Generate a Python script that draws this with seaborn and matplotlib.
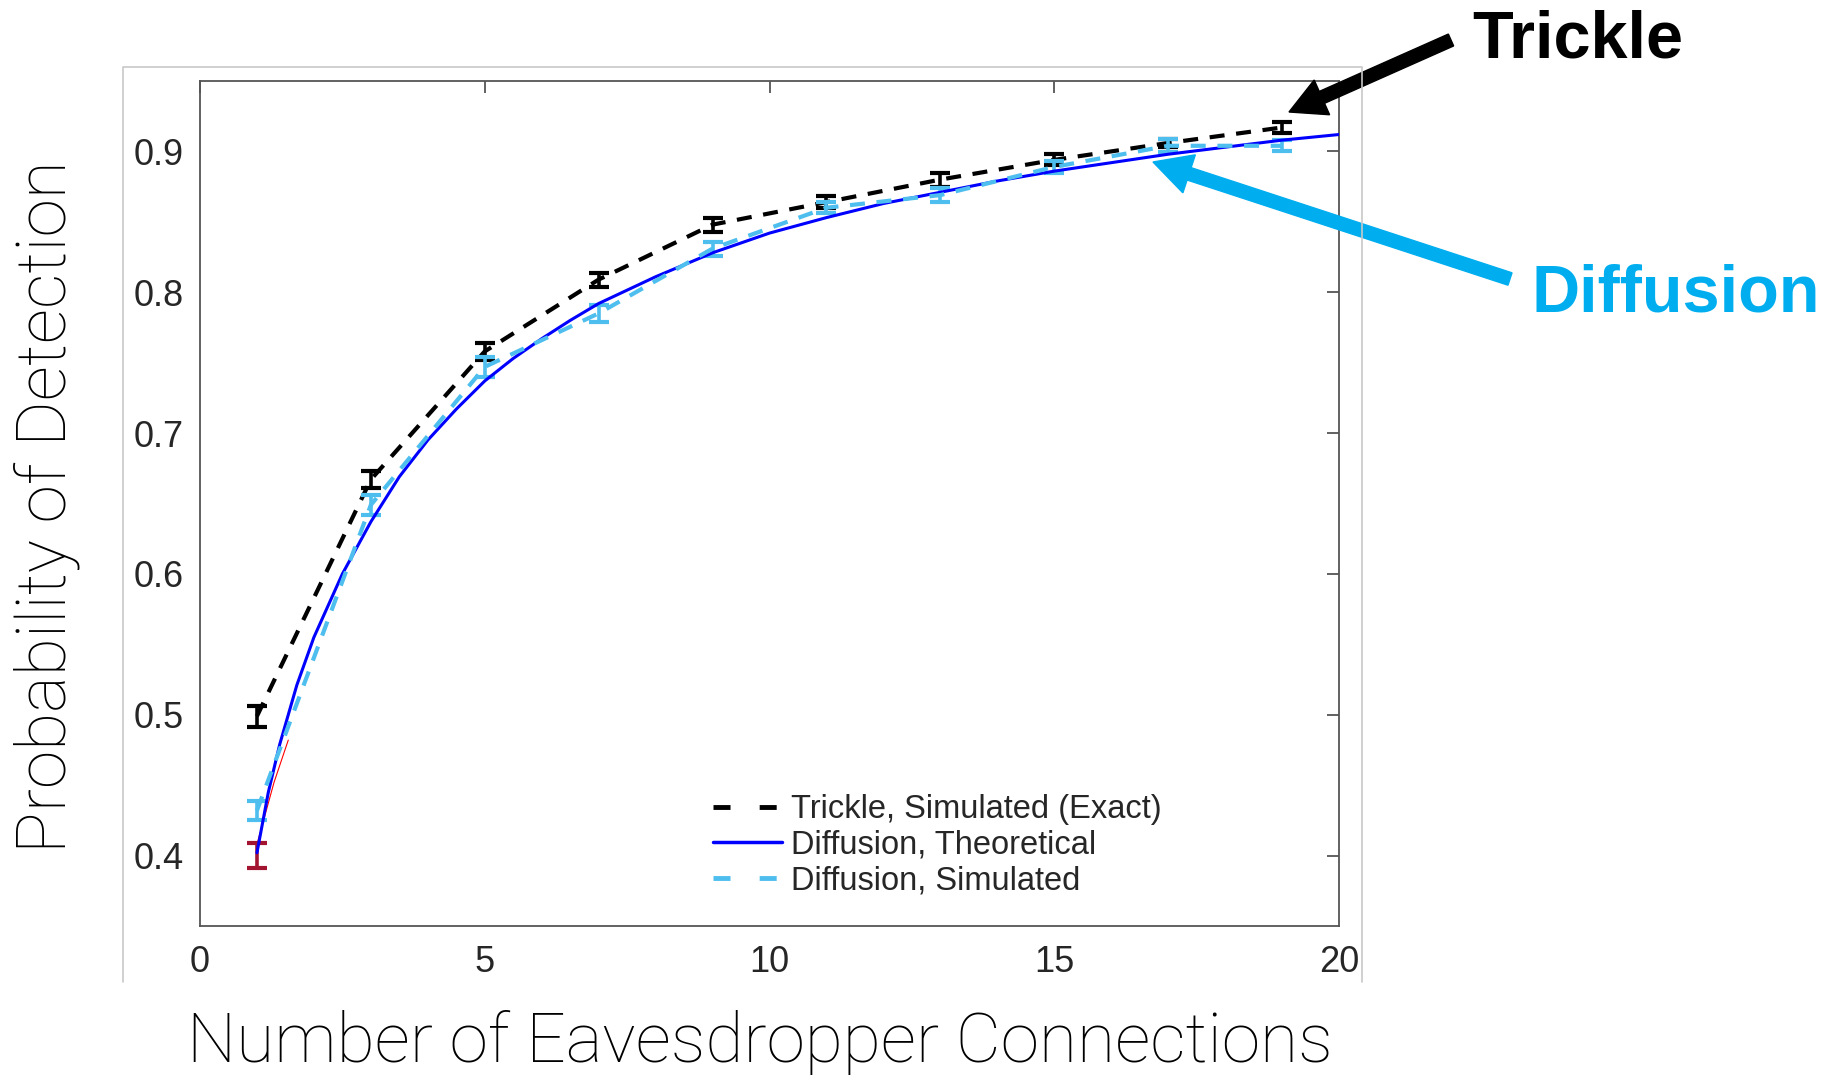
import matplotlib.pyplot as plt
import matplotlib.lines as mlines
import matplotlib.patches as mpatches
import matplotlib.transforms as mtransforms
import seaborn as sns

# simulated points (odd numbers of eavesdropper connections)
sim_x = [1, 3, 5, 7, 9, 11, 13, 15, 17, 19]
trickle_sim = [0.499, 0.667, 0.758, 0.809, 0.848, 0.864, 0.880, 0.894, 0.906, 0.917]
trickle_err = [0.0075, 0.006, 0.006, 0.005, 0.005, 0.004, 0.005, 0.004, 0.003, 0.004]
diffusion_sim = [0.432, 0.649, 0.747, 0.785, 0.831, 0.860, 0.869, 0.889, 0.904, 0.904]
diffusion_err = [0.007, 0.007, 0.007, 0.006, 0.005, 0.004, 0.005, 0.004, 0.0045, 0.004]

# theoretical diffusion curve
theory_x = [1, 1.2, 1.4, 1.7, 2, 2.5, 3, 3.5, 4, 4.5, 5, 5.5, 6, 6.5, 7, 8, 9, 10,
            11, 12, 13, 14, 15, 16, 17, 18, 19, 20]
diffusion_theory = [0.402, 0.445, 0.479, 0.521, 0.555, 0.600, 0.637, 0.669,
                    0.695, 0.717, 0.737, 0.753, 0.767, 0.780, 0.792, 0.811,
                    0.828, 0.842, 0.853, 0.863, 0.871, 0.879, 0.886, 0.892,
                    0.898, 0.903, 0.908, 0.912]

# faint red curve + bar at x=1, mostly hidden under the blue line
red_x = [1.0, 1.3, 1.55]
red_y = [0.408, 0.452, 0.482]
red_bar_x = [1]
red_bar_y = [0.400]
red_bar_err = [0.009]

xticks = [0, 5, 10, 15, 20]
yticks = [0.4, 0.5, 0.6, 0.7, 0.8, 0.9]
legend_labels = ["Trickle, Simulated (Exact)", "Diffusion, Theoretical", "Diffusion, Simulated"]

BLACK = "black"
BLUE = "#0000ff"
CYAN = "#4dbeee"
DARKRED = "#a2142f"
ARROW_CYAN = "#00aeef"

sns.set_theme(style="white")
plt.rcParams['font.family'] = ['Liberation Sans', 'DejaVu Sans']

W, H = 1844, 1075
fig = plt.figure(figsize=(W / 100, H / 100), dpi=100)
ax = fig.add_axes([200 / W, 1 - 926 / H, 1139 / W, 845 / H])

dash = (0, (3.6, 2.8))
bar_kw = dict(fmt="none", elinewidth=2.6, capsize=7.5, capthick=3)
sns.lineplot(x=red_x, y=red_y, ax=ax, color="red", linewidth=0.8, zorder=2)
sns.lineplot(x=sim_x, y=trickle_sim, ax=ax, color=BLACK, linewidth=3, linestyle=dash, zorder=3)
ax.errorbar(red_bar_x, red_bar_y, yerr=red_bar_err, ecolor=DARKRED, zorder=2, **bar_kw)
ax.errorbar(sim_x, trickle_sim, yerr=trickle_err, ecolor=BLACK, zorder=4, **bar_kw)
ax.errorbar(sim_x, diffusion_sim, yerr=diffusion_err, ecolor=CYAN, zorder=4, **bar_kw)
sns.lineplot(x=theory_x, y=diffusion_theory, ax=ax, color=BLUE, linewidth=2.2, zorder=5)
sns.lineplot(x=sim_x, y=diffusion_sim, ax=ax, color=CYAN, linewidth=3, linestyle=dash, zorder=5)

ax.set_xlim(0, 20)
ax.set_ylim(0.35, 0.95)
ax.set_xticks(xticks)
ax.set_xticklabels([str(t) for t in xticks])
ax.set_yticks(yticks)
ax.set_yticklabels([f"{t:.1f}" for t in yticks])
ax.tick_params(direction="in", length=8.6, width=1.3, color="#555555",
               labelsize=26, labelcolor="#262626", top=True, right=True)
ax.tick_params(axis="x", pad=13.5)
ax.tick_params(axis="y", pad=11.5)
for s in ax.spines.values():
    s.set_color("#555555")
    s.set_linewidth(1.3)
ax.set_xlabel("")
ax.set_ylabel("")

handles = [
    mlines.Line2D([], [], color=BLACK, linewidth=3.5, linestyle=(0, (3.5, 6))),
    mlines.Line2D([], [], color=BLUE, linewidth=2.5),
    mlines.Line2D([], [], color=CYAN, linewidth=3.5, linestyle=(0, (3.5, 6))),
]
ax.legend(handles, legend_labels, loc="center left",
          bbox_to_anchor=(713 / W, 1 - 845 / H), bbox_transform=fig.transFigure,
          frameon=False, fontsize=23.5, handlelength=2.1, handletextpad=0.3,
          labelspacing=0.14, borderpad=0, borderaxespad=0)

# axis titles in a light face
fig.text(760 / W, 1 - 1062 / H, "Number of Eavesdropper Connections",
         ha="center", va="baseline", fontsize=50, family="Roboto",
         fontweight="light", color="black")
fig.text(47 / W, 1 - 507 / H, "Probability of Detection", rotation=90,
         ha="center", va="center", fontsize=50, family="Roboto",
         fontweight="light", color="black")

# thin grey frame around the plot (left, top, right)
fx = [123 / W, 123 / W, 1362 / W, 1362 / W]
fy = [1 - 982 / H, 1 - 67 / H, 1 - 67 / H, 1 - 982 / H]
fig.add_artist(mlines.Line2D(fx, fy, color="#c8c8c8", linewidth=1.2,
                             transform=fig.transFigure))

# call-out arrows and labels (pixel coordinates)
px = mtransforms.IdentityTransform()
fig.add_artist(mpatches.FancyArrow(1451, H - 40, 1289 - 1451, 40 - 112, width=13,
                                   head_width=38, head_length=36,
                                   length_includes_head=True, color=BLACK,
                                   transform=px))
fig.add_artist(mpatches.FancyArrow(1510, H - 279, 1153 - 1510, 279 - 162, width=13,
                                   head_width=40, head_length=38,
                                   length_includes_head=True, color=ARROW_CYAN,
                                   transform=px))
fig.text(1472 / W, 1 - 58 / H, "Trickle", ha="left", va="baseline",
         fontsize=48, fontweight="bold", color=BLACK)
fig.text(1531 / W, 1 - 311 / H, "Diffusion", ha="left", va="baseline",
         fontsize=48, fontweight="bold", color=ARROW_CYAN)

fig.savefig("out.png", dpi=100)
